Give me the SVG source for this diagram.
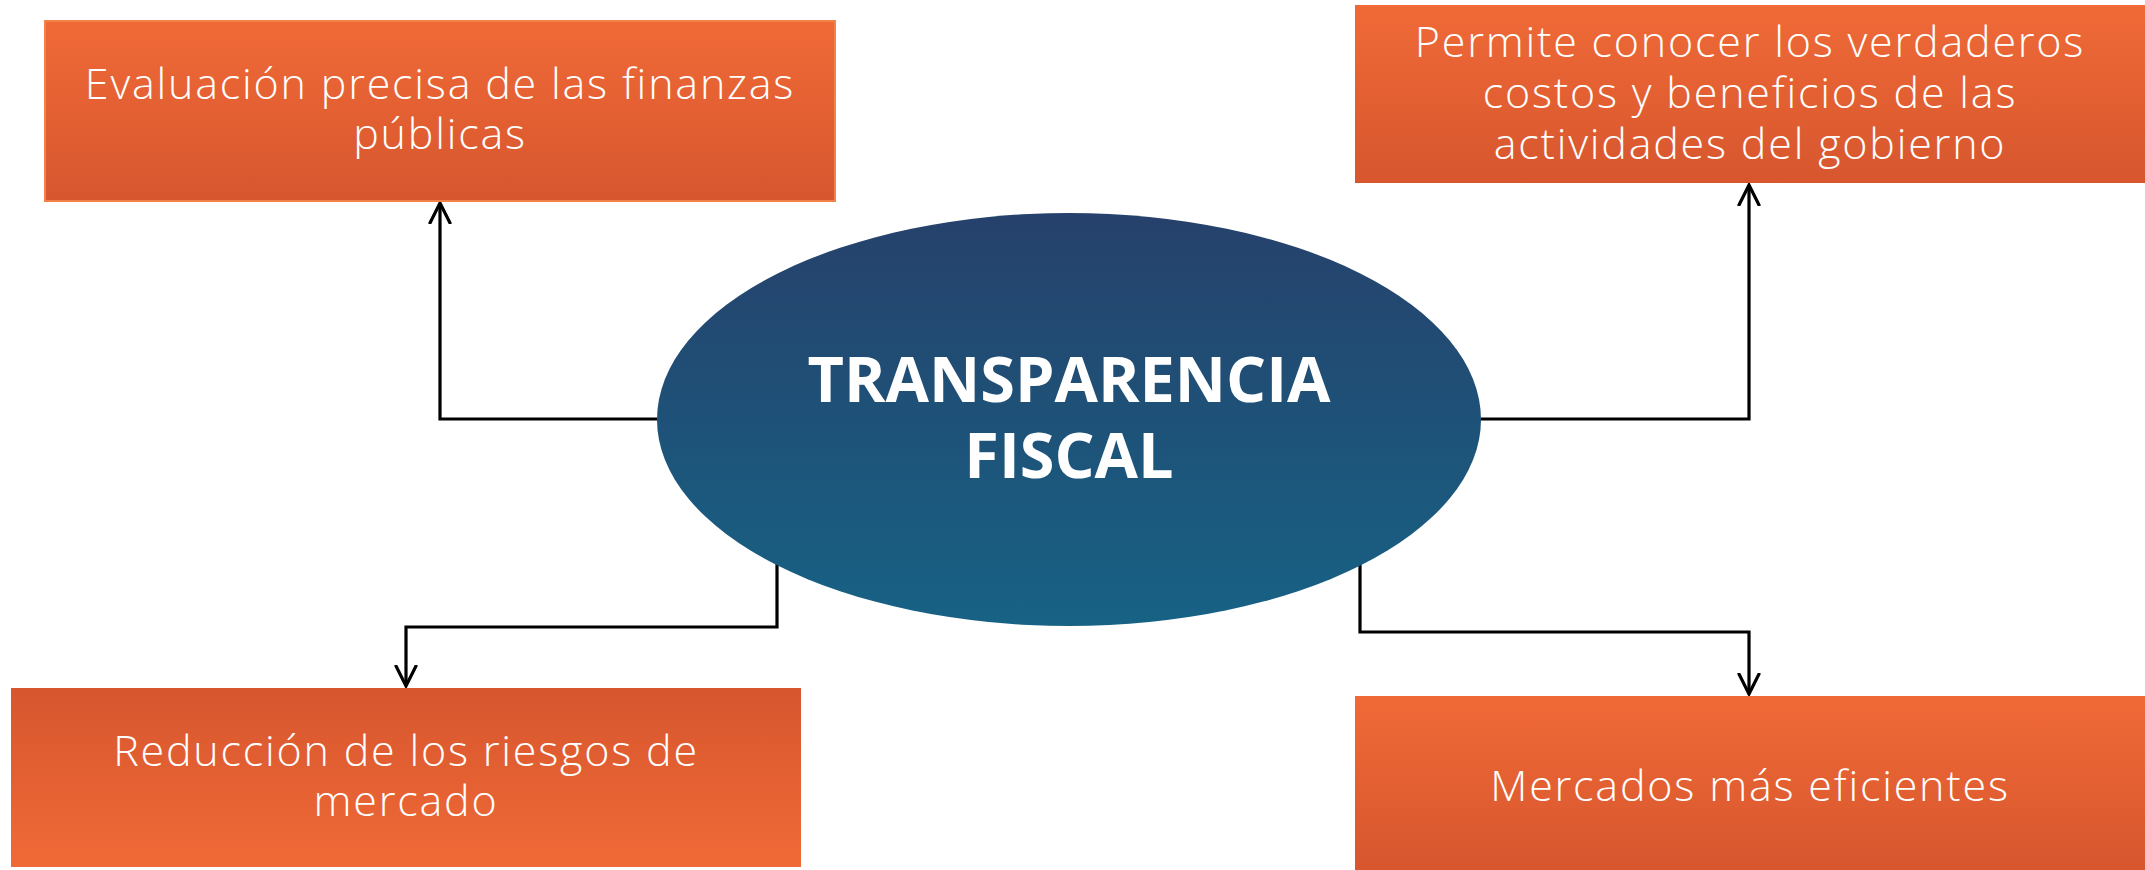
<svg xmlns="http://www.w3.org/2000/svg" width="2145" height="870" viewBox="0 0 2145 870">
  <defs>
    <linearGradient id="orangeDown" x1="0" y1="0" x2="0" y2="1">
      <stop offset="0" stop-color="#f06a37"/>
      <stop offset="1" stop-color="#d7562e"/>
    </linearGradient>
    <linearGradient id="orangeUp" x1="0" y1="0" x2="0" y2="1">
      <stop offset="0" stop-color="#d7562e"/>
      <stop offset="1" stop-color="#f06a37"/>
    </linearGradient>
    <linearGradient id="blue" x1="0" y1="0" x2="0" y2="1">
      <stop offset="0" stop-color="#26416b"/>
      <stop offset="1" stop-color="#176285"/>
    </linearGradient>
    <marker id="arrow" viewBox="0 0 24 24" refX="21" refY="12" markerWidth="24" markerHeight="24" markerUnits="userSpaceOnUse" orient="auto">
      <path d="M1,2 L21,12 L1,22" fill="none" stroke="#000" stroke-width="3.2" stroke-linecap="round" stroke-linejoin="miter"/>
    </marker>
  </defs>
  <style>
    .box-text { font-family: "Open Sans", "Liberation Sans", sans-serif; font-weight: 300; font-size: 43px; letter-spacing: 1.8px; fill: #ffffff; text-anchor: middle; }
    .title { font-family: "Open Sans", "Liberation Sans", sans-serif; font-weight: 700; font-size: 63px; fill: #ffffff; text-anchor: middle; }
    .conn { fill: none; stroke: #000; stroke-width: 3.2; stroke-linejoin: miter; }
  </style>
  <rect width="2145" height="870" fill="#ffffff"/>

  <g id="connectors">
    <path class="conn" d="M657,419 H440 V203" marker-end="url(#arrow)"/>
    <path class="conn" d="M1481,419 H1749 V185" marker-end="url(#arrow)"/>
    <path class="conn" d="M777,562 V627 H406 V686" marker-end="url(#arrow)"/>
    <path class="conn" d="M1360,562 V632 H1749 V694" marker-end="url(#arrow)"/>
  </g>

  <g id="node-center">
    <ellipse cx="1069" cy="419.5" rx="412" ry="206.5" fill="url(#blue)"/>
    <text class="title" x="1069" y="402">TRANSPARENCIA</text>
    <text class="title" x="1069" y="478">FISCAL</text>
  </g>

  <g id="node-evaluacion">
    <rect x="45" y="21" width="790" height="180" fill="url(#orangeDown)" stroke="#f3824a" stroke-width="2"/>
    <text class="box-text" x="440" y="99">Evaluación precisa de las finanzas</text>
    <text class="box-text" x="440" y="149">públicas</text>
  </g>

  <g id="node-permite">
    <rect x="1355" y="5" width="790" height="178" fill="url(#orangeDown)"/>
    <text class="box-text" x="1750" y="57">Permite conocer los verdaderos</text>
    <text class="box-text" x="1750" y="108">costos y beneficios de las</text>
    <text class="box-text" x="1750" y="159">actividades del gobierno</text>
  </g>

  <g id="node-reduccion">
    <rect x="11" y="688" width="790" height="179" fill="url(#orangeUp)"/>
    <text class="box-text" x="406" y="766">Reducción de los riesgos de</text>
    <text class="box-text" x="406" y="816">mercado</text>
  </g>

  <g id="node-mercados">
    <rect x="1355" y="696" width="790" height="174" fill="url(#orangeDown)"/>
    <text class="box-text" x="1750" y="801">Mercados más eficientes</text>
  </g>
</svg>
